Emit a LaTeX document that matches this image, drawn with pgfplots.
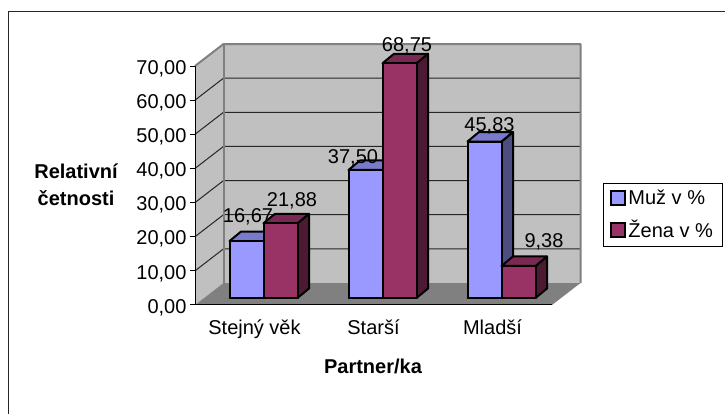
\documentclass[border=0pt]{standalone}
\usepackage{pgfplots}
\pgfplotsset{compat=1.18}
\usepackage{fontspec}
\setmainfont{Liberation Sans}
\definecolor{muz}{HTML}{9999FF}
\definecolor{muzT}{HTML}{7A7ACC}
\definecolor{muzS}{HTML}{4D4D80}
\definecolor{zena}{HTML}{993366}
\definecolor{zenaT}{HTML}{7A2952}
\definecolor{zenaS}{HTML}{4D1A33}
\definecolor{wall}{HTML}{C0C0C0}
\definecolor{floorc}{HTML}{808080}
% one 3-D bar: #1 category centre, #2 shift in px (-17 or +17), #3 value, #4 colour stem
\newcommand{\threedbar}[4]{%
  \pgfmathsetmacro{\xa}{#1+(#2-17)/119}%
  \pgfmathsetmacro{\xb}{#1+(#2+17)/119}%
  \pgfmathsetmacro{\xc}{\xb+11.5/119}%
  \pgfmathsetmacro{\xd}{\xa+11.5/119}%
  \pgfmathsetmacro{\yt}{#3+9.5/3.4143}%
  \pgfmathsetmacro{\yb}{9.5/3.4143}%
  \edef\temp{\noexpand\addplot[forget plot,draw=black,line width=2pt,fill=#4S,line join=round,line cap=round] coordinates {(\xb,0) (\xc,\yb) (\xc,\yt) (\xb,#3) (\xb,0)};
   \noexpand\addplot[forget plot,draw=black,line width=2pt,fill=#4T,line join=round,line cap=round] coordinates {(\xa,#3) (\xb,#3) (\xc,\yt) (\xd,\yt) (\xa,#3)};
   \noexpand\addplot[forget plot,draw=black,line width=2pt,fill=#4,line join=round,line cap=round] coordinates {(\xa,0) (\xb,0) (\xb,#3) (\xa,#3) (\xa,0)};}%
  \temp}
\begin{document}
\begin{tikzpicture}[x=1pt,y=1pt]
\path[use as bounding box] (0,0) rectangle (725,414);
\fill[white] (0,0) rectangle (725,414);
\draw[black!85,line width=1pt] (8.5,0) -- (8.5,402) -- (725,402);
% frame: front plane of the chart
\begin{axis}[
  at={(195pt,109pt)},anchor=south west,
  scale only axis,width=357pt,height=239pt,
  xmin=0,xmax=3,ymin=0,ymax=70,clip=false,
  axis x line*=bottom,axis y line*=left,axis line style={-,black,line width=1pt},
  axis on top,
  ytick={0,10,...,70},
  xtick={0.5,1.5,2.5},xticklabels={Stejný věk,Starší,Mladší},
  extra x ticks={0,1,2,3},extra x tick labels={},
  extra x tick style={tick style={black,line width=1pt}},
  x tick style={draw=none},
  y tick style={black,line width=1pt},
  tick align=outside,major tick length=5pt,
  tick label style={font=\fontsize{20}{24}\selectfont},
  xticklabel style={yshift=-6pt},
  yticklabel style={yshift=-2.5pt,/pgf/number format/.cd,fixed,fixed zerofill,precision=2,use comma,assume math mode=true},
]
\fill[wall] (axis cs:0,0) -- (axis cs:0.2395,6.44) -- (axis cs:0.2395,76.44) -- (axis cs:0,70) -- cycle;
\fill[wall] (axis cs:0.2395,6.44) rectangle (axis cs:3.2395,76.44);
\fill[floorc] (axis cs:0,0) -- (axis cs:3,0) -- (axis cs:3.2395,6.44) -- (axis cs:0.2395,6.44) -- cycle;
\draw[black!85,line width=1pt] (axis cs:0,10) -- (axis cs:0.2395,16.44) -- (axis cs:3.2395,16.44);
\draw[black!85,line width=1pt] (axis cs:0,20) -- (axis cs:0.2395,26.44) -- (axis cs:3.2395,26.44);
\draw[black!85,line width=1pt] (axis cs:0,30) -- (axis cs:0.2395,36.44) -- (axis cs:3.2395,36.44);
\draw[black!85,line width=1pt] (axis cs:0,40) -- (axis cs:0.2395,46.44) -- (axis cs:3.2395,46.44);
\draw[black!85,line width=1pt] (axis cs:0,50) -- (axis cs:0.2395,56.44) -- (axis cs:3.2395,56.44);
\draw[black!85,line width=1pt] (axis cs:0,60) -- (axis cs:0.2395,66.44) -- (axis cs:3.2395,66.44);
\draw[floorc,line width=2pt,line join=round] (axis cs:0,70) -- (axis cs:0.2395,76.44) -- (axis cs:3.2395,76.44) -- (axis cs:3.2395,6.44);
\draw[floorc,line width=2pt] (axis cs:0.2395,76.44) -- (axis cs:0.2395,6.44);
\end{axis}
% bars: same scales, standing on the floor 9 px in and 7 px up
\begin{axis}[
  at={(204pt,116pt)},anchor=south west,
  scale only axis,width=357pt,height=239pt,
  xmin=0,xmax=3,ymin=0,ymax=70,clip=false,
  hide axis,
  legend style={at={(1.1177,0.4812)},anchor=north west,draw=black,line width=0.8pt,
    inner xsep=7pt,inner ysep=5pt,
    font=\fontsize{20}{24}\selectfont,row sep=10pt,
    /tikz/every even column/.append style={column sep=6pt}},
  legend cell align=left,
]
\threedbar{0.5}{-17}{16.67}{muz}
\threedbar{0.5}{17}{21.88}{zena}
\threedbar{1.5}{-17}{37.50}{muz}
\threedbar{1.5}{17}{68.75}{zena}
\threedbar{2.5}{-17}{45.83}{muz}
\threedbar{2.5}{17}{9.38}{zena}
\addlegendimage{legend image code/.code={\draw[black,line width=2pt,fill=muz] (0pt,-7pt) rectangle (14pt,7pt);}}
\addlegendentry{Muž v \%}
\addlegendimage{legend image code/.code={\draw[black,line width=2pt,fill=zena] (0pt,-7pt) rectangle (14pt,7pt);}}
\addlegendentry{Žena v \%\hspace{3pt}}
\end{axis}
% labels
\begin{scope}[every node/.style={font=\fontsize{20}{24}\selectfont,anchor=base,inner sep=0pt}]
\node at (248,191) {16,67};
\node at (292,207) {21,88};
\node at (353,250) {37,50};
\node at (407,362) {68,75};
\node at (489.5,282) {45,83};
\node at (544,166) {9,38};
\node[font=\fontsize{20}{24}\selectfont\bfseries] at (76,235) {Relativní};
\node[font=\fontsize{20}{24}\selectfont\bfseries] at (76,208) {četnosti};
\node[font=\fontsize{20}{24}\selectfont\bfseries] at (373,40) {Partner/ka};
\end{scope}
\end{tikzpicture}
\end{document}
